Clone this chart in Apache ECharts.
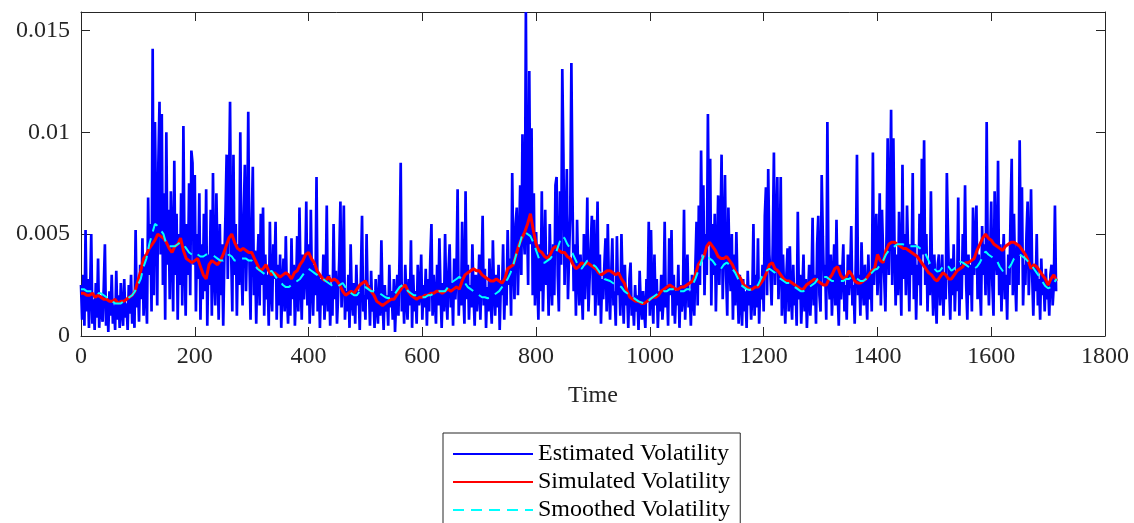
<!DOCTYPE html>
<html>
<head>
<meta charset="utf-8">
<script src="https://cdn.jsdelivr.net/npm/echarts@6/dist/echarts.min.js"></script>
<style>
html,body{margin:0;padding:0;background:#fff;}
#chart{width:1134px;height:523px;}
</style>
</head>
<body>
<div id="chart"></div>
<script>
// ---- data (volatility values in units of 1e-4) ----
const xTicks = [0, 200, 400, 600, 800, 1000, 1200, 1400, 1600, 1800];
const yTicks = [0, 0.005, 0.01, 0.015];
const seriesNames = ['Estimated Volatility', 'Simulated Volatility', 'Smoothed Volatility'];

// Estimated volatility, one value every 2 time steps (t = 0, 2, 4, ...)
const estStep = 2;
const estVol_e4 = [
25,8,30,5,52,12,28,4,22,50,
6,18,3,26,9,38,4,20,12,7,
24,45,5,18,2,22,10,30,6,15,
3,32,8,20,4,26,12,5,28,9,
16,3,25,11,30,6,20,4,52,14,
27,7,35,18,48,10,40,22,6,68,
30,55,12,141,20,105,60,15,85,115,
40,109,25,70,8,100,35,62,18,71,
45,12,86,30,60,8,50,25,70,15,
103,40,10,55,30,75,20,91,85,35,
79,12,50,28,70,8,45,18,60,22,
72,5,40,25,62,10,80,30,15,70,
35,8,55,20,45,5,38,60,89,28,
70,115,40,12,89,30,55,10,45,25,
100,35,15,60,84,22,48,110,38,8,
55,83,20,42,6,35,50,15,60,25,
63,10,40,18,30,5,56,22,12,45,
28,56,8,35,15,40,4,25,38,12,
49,20,6,30,10,48,18,35,5,22,
49,12,63,28,8,40,18,30,66,15,
45,6,62,25,10,35,20,78,12,30,
4,28,15,40,8,22,64,12,30,5,
25,10,55,18,32,6,20,38,66,14,
28,64,8,22,12,30,4,45,18,10,
26,6,35,15,22,3,30,59,12,20,
8,50,18,25,5,32,12,20,4,28,
15,6,30,10,47,18,3,25,12,20,
5,35,14,22,8,28,2,18,30,10,
40,85,12,25,6,35,18,8,28,15,
47,4,30,12,22,6,35,15,20,40,
8,25,14,33,5,28,12,38,55,10,
30,18,6,35,15,48,22,4,26,12,
50,20,8,32,45,14,26,5,38,18,
30,72,10,28,15,56,22,6,71,18,
35,8,25,14,45,20,5,30,12,22,
40,8,28,59,15,33,4,24,12,38,
18,6,47,22,10,30,14,35,3,26,
20,45,8,30,15,52,25,38,10,80,
35,18,55,63,20,45,74,30,99,50,
40,159,60,25,130,45,102,20,70,15,
51,30,8,45,22,71,12,35,62,25,
40,10,55,28,15,45,20,74,78,30,
12,71,35,131,89,25,50,82,18,40,
60,134,68,22,45,10,57,30,15,40,
25,8,50,18,35,68,12,28,45,59,
20,57,10,32,66,15,40,6,28,18,
35,48,12,55,25,8,30,48,15,22,
5,49,20,30,10,50,25,6,35,15,
22,4,28,36,10,18,5,25,12,20,
3,32,15,8,22,12,4,28,18,56,
10,52,20,6,40,15,28,4,22,12,
30,8,18,56,14,25,5,48,20,52,
10,30,6,22,15,35,4,25,12,18,
62,8,28,40,14,22,5,30,18,10,
35,56,15,64,25,91,40,74,20,50,
30,109,45,87,15,55,30,60,12,40,
69,25,50,89,18,45,79,30,10,63,
35,22,50,8,40,15,51,25,6,30,
18,5,28,12,22,4,32,15,25,8,
20,55,10,30,14,48,6,25,18,35,
12,59,73,20,82,40,30,15,45,90,
25,50,78,18,35,78,10,40,22,6,
30,43,12,44,20,8,35,15,25,5,
61,18,30,6,22,40,12,28,4,20,
35,10,25,58,15,30,6,45,59,20,
12,79,49,25,35,8,105,30,18,40,
10,28,45,15,57,22,5,35,18,30,
45,12,25,8,40,20,30,54,15,25,
6,38,89,20,30,10,46,25,15,35,
22,8,40,18,30,12,90,25,45,60,
20,35,70,15,62,40,28,12,50,97,
30,60,111,25,97,45,15,40,20,61,
35,10,84,28,50,20,64,40,12,45,
30,80,18,45,8,35,25,60,15,87,
40,96,25,50,12,35,20,71,30,10,
40,22,6,35,40,15,25,40,10,30,
18,80,50,25,8,38,20,45,12,30,
22,68,10,35,18,50,30,74,25,8,
40,20,35,12,63,30,45,64,18,40,
25,10,54,30,45,20,105,35,15,40,
66,25,10,71,40,30,86,20,45,12,
35,50,18,30,8,40,25,60,87,20,
60,30,12,45,25,96,40,73,15,35,
25,50,66,20,40,72,30,10,35,22,
50,15,28,8,38,20,30,12,33,18,
25,10,30,35,15,25,64,22
];

// Simulated volatility, one value every 5 time steps
const simStep = 5;
const simVol_e4 = [
21,21,20,20,21,19,20,19,18,18,
17,17,18,16,17,17,18,19,20,22,
27,32,38,40,43,45,47,50,49,48,
46,43,41,44,45,48,42,38,37,36,
37,38,34,30,28,35,37,36,35,37,
40,44,48,50,46,43,42,43,42,41,
41,38,35,32,33,35,32,30,31,30,
29,30,31,30,28,31,32,35,37,40,
41,38,36,32,30,28,27,29,27,28,
27,25,22,20,21,22,21,23,25,26,
27,24,22,20,17,16,15,16,17,18,
18,20,22,24,25,22,20,19,18,19,
19,20,20,21,21,22,22,21,22,23,
22,23,24,23,27,30,31,32,33,32,
32,30,29,28,27,27,28,27,26,28,
33,34,35,40,45,48,51,55,60,52,
45,42,41,39,38,40,43,44,42,41,
41,39,38,35,33,34,36,35,36,35,
34,33,31,30,31,32,32,31,30,31,
28,26,22,19,18,17,17,16,16,17,
18,19,19,20,22,23,24,25,24,23,
23,24,24,25,26,27,30,35,37,39,
44,46,44,42,39,38,38,39,37,35,
32,30,28,25,24,23,23,24,24,26,
28,31,35,36,33,32,30,28,27,27,
26,25,24,23,23,25,26,27,28,27,
26,25,25,28,30,33,34,30,28,29,
32,30,27,26,26,27,28,30,32,33,
40,37,36,42,45,46,46,45,44,43,
43,42,41,40,39,37,35,33,31,30,
28,27,29,31,30,28,28,30,32,33,
34,36,36,37,38,42,45,48,50,48,
47,45,44,43,42,44,45,46,46,45,
44,42,40,37,33,35,34,32,30,28,
25,28,30,27
];

// Smoothed volatility, one value every 5 time steps
const smoothStep = 5;
const smoothVol_e4 = [
23,23,22,22,22,22,21,21,20,19,
18.5,17,16,16,16,17,18,19,20,22,
25,28,34,38,45,50,55,54,52,50,
45,44,44,44,45,46,45,43,41,40,
41,40,39,39,40,40,40,39,38,37,
37,38,40,39,37,37,38,38,38,37,
37,35,33,32,31,30,31,32,30,28,
27,25,24,24,25,26,27,28,30,32,
33,32,31,30,29,28,27,26,25,24,
24,25,26,24,22,21,20,20,22,23,
24,23,22,22,21,21,20,19,18.5,19,
20,22,24,25,24,22,21,20,20,19,
19,19,20,20,21,21,22,22,22,24,
26,27,28,29,28,26,24,23,22,21,
20,19,19,18.5,19,20,21,22,24,26,
28,31,35,40,44,49,51,50,49,46,
42,38,36,36,37,38,40,41,45,49,
48,45,43,40,37,34,33,35,37,36,
35,34,32,30,28,27.5,27,26,25,25,
24,22,21,20,19,18,17,16.5,16,16,
18,19,20,21,21,22,22,23,23,23,
22,22,22,23,23,25,28,32,36,40,
40,38,37,35,33,33,35,36,35,33,
31,28,25,24,23,22.6,23,24,25,28,
31,32,33,32,31,29,28,27,26,26,
25,24,23,22,22,23,24,25,26,28,
28,29,29,28,27,27,27,27,27,28,
28,29,29,28,27,27,28,30,31,32.5,
33,35,37,40,42,43,44,45,45,45,
44,44,44,44,44,43,42,40,37,34,
33,31.6,32,34,35,34,32,33,35,36.5,
36,35,34,33,33,34,36,39,41.5,40,
39,38,37,34,32,31.6,33,35,38,39,
40,39,38,36.5,35,33,31,29,26.7,24.5,
23.4,24,26,28
];

// ---- build chart ----
const toPairs = (arr, step) => arr.map((v, i) => [i * step, v * 1e-4]);
const AX = '#262626';
const FONT = 'Liberation Serif';

const chart = echarts.init(document.getElementById('chart'), null, {renderer: 'canvas'});
const yLabel = v => {
  const r = +v.toFixed(4);
  return yTicks.some(t => Math.abs(t - r) < 1e-9) ? String(r) : '';
};
const xAxisBase = {
  type: 'value', min: xTicks[0], max: xTicks[xTicks.length - 1], interval: 200,
  axisLine: {show: true, onZero: false, lineStyle: {color: AX, width: 1}},
  axisTick: {show: true, inside: true, length: 9, lineStyle: {color: AX}},
  splitLine: {show: false}
};
const yAxisBase = {
  type: 'value', min: 0, max: 0.0159, interval: 0.005,
  axisLine: {show: true, onZero: false, lineStyle: {color: AX, width: 1}},
  axisTick: {show: true, inside: true, length: 9, lineStyle: {color: AX}},
  splitLine: {show: false}
};

chart.setOption({
  animation: false,
  backgroundColor: '#fff',
  grid: {left: 81, right: 29, top: 12, bottom: 187, containLabel: false},
  xAxis: [
    Object.assign({}, xAxisBase, {
      position: 'bottom',
      name: 'Time', nameLocation: 'middle', nameGap: 48,
      nameTextStyle: {fontFamily: FONT, fontSize: 24, color: AX},
      axisLabel: {show: true, margin: 9, fontFamily: FONT, fontSize: 24, color: AX,
        formatter: v => xTicks.includes(v) ? String(v) : ''}
    }),
    Object.assign({}, xAxisBase, {position: 'top', axisLabel: {show: false}})
  ],
  yAxis: [
    Object.assign({}, yAxisBase, {
      position: 'left',
      axisLabel: {show: true, margin: 11, fontFamily: FONT, fontSize: 24, color: AX, formatter: yLabel}
    }),
    Object.assign({}, yAxisBase, {position: 'right', axisLabel: {show: false}})
  ],
  legend: {
    orient: 'vertical', left: 443, top: 433, height: 110, width: 300,
    padding: [7, 10, 8, 9],
    backgroundColor: '#fff', borderColor: AX, borderWidth: 1, borderRadius: 0,
    itemWidth: 80, itemHeight: 14, itemGap: 0,
    itemStyle: {opacity: 0, borderWidth: 0},
    textStyle: {fontFamily: FONT, fontSize: 24, lineHeight: 28, color: '#000'},
    data: seriesNames
  },
  series: [
    {
      name: seriesNames[0], type: 'line', data: toPairs(estVol_e4, estStep),
      showSymbol: false, symbol: 'none', smooth: false,
      lineStyle: {color: '#0000ff', width: 2.7}, itemStyle: {color: '#0000ff'}, z: 2
    },
    {
      name: seriesNames[1], type: 'line', data: toPairs(simVol_e4, simStep),
      showSymbol: false, symbol: 'none',
      lineStyle: {color: '#ff0000', width: 3}, itemStyle: {color: '#ff0000'}, z: 3
    },
    {
      name: seriesNames[2], type: 'line', data: toPairs(smoothVol_e4, smoothStep),
      showSymbol: false, symbol: 'none',
      lineStyle: {color: '#00ffff', width: 2, type: [11, 7]}, itemStyle: {color: '#00ffff'}, z: 4
    }
  ]
});
</script>
</body>
</html>
